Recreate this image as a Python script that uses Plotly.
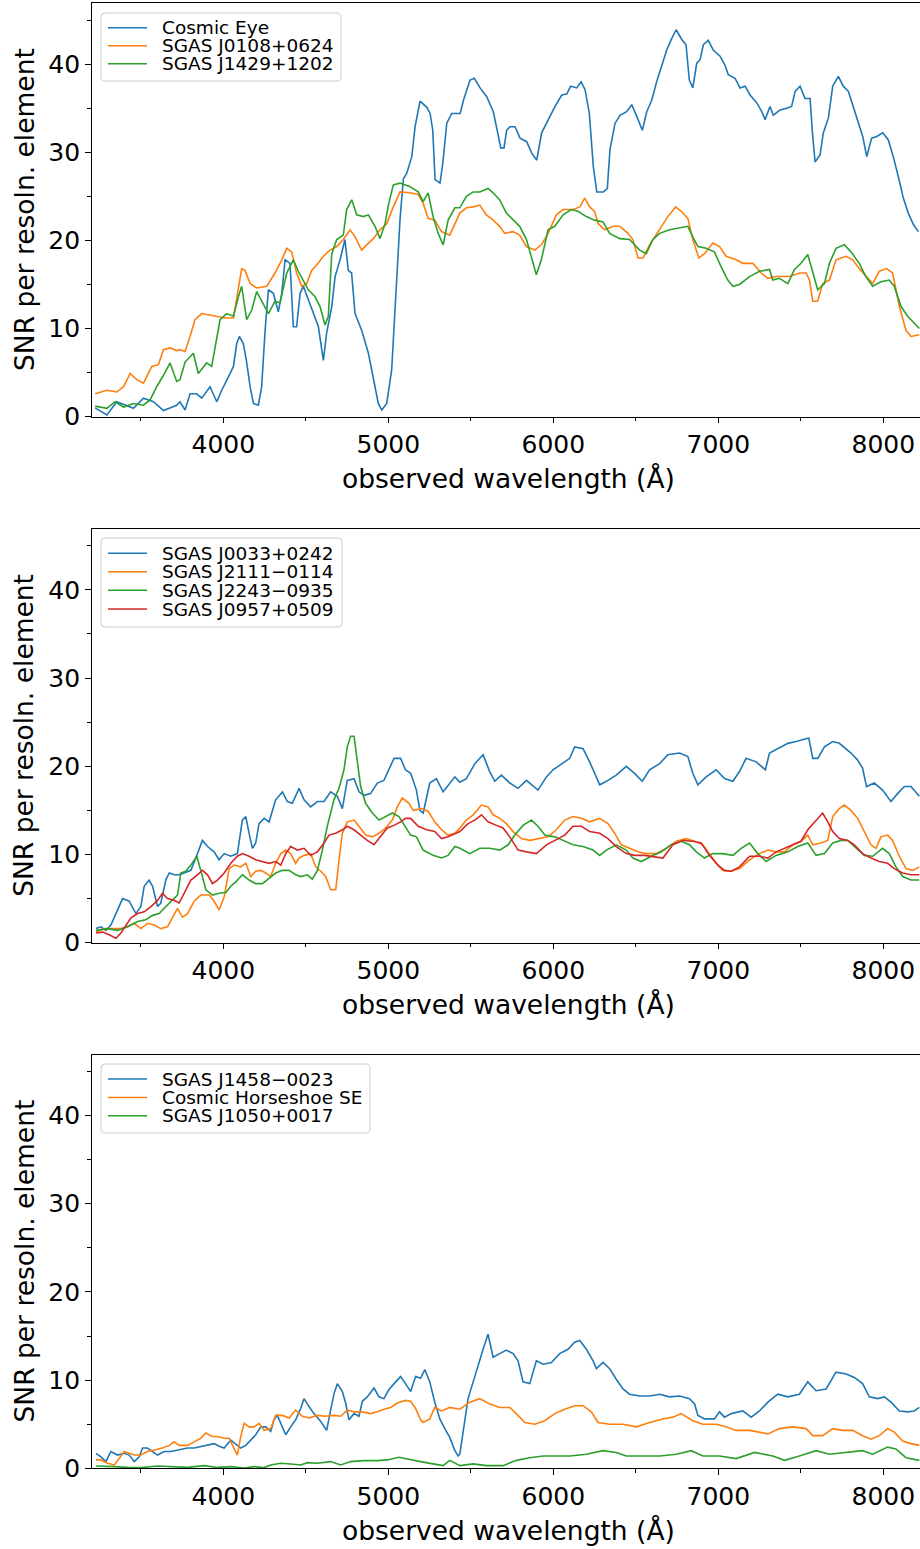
import plotly.graph_objects as go

# ---------------------------------------------------------------------------
# SNR per resolution element vs observed wavelength, three groups of spectra
# Each series: list of (wavelength [Angstrom], SNR) pairs
# ---------------------------------------------------------------------------

COSMIC_EYE = [
    (3223, 1.0), (3294, 0.2), (3354, 1.7), (3415, 1.3), (3455, 0.95), (3516, 2.1),
    (3576, 1.7), (3637, 0.7), (3717, 1.3), (3737, 1.7), (3768, 0.76), (3798, 2.6),
    (3838, 2.6), (3869, 2.1), (3889, 2.6), (3919, 3.4), (3960, 1.7), (3990, 3.0),
    (4030, 4.5), (4061, 5.7), (4081, 8.3), (4097, 9.1), (4121, 8.3), (4141, 6.2),
    (4162, 3.4), (4182, 1.5), (4212, 1.3), (4232, 3.4), (4253, 9.8), (4273, 14.4),
    (4303, 14.0), (4333, 11.9), (4354, 14.0), (4374, 17.8), (4404, 17.4), (4424, 10.2),
    (4444, 10.2), (4465, 14.0), (4485, 14.8), (4515, 13.2), (4545, 11.7), (4576, 10.2),
    (4606, 6.4), (4626, 9.5), (4657, 12.5), (4677, 15.9), (4707, 17.8), (4737, 20.1),
    (4757, 16.6), (4777, 16.3), (4798, 11.7), (4838, 9.8), (4879, 7.2), (4909, 4.2),
    (4939, 1.5), (4960, 0.76), (4990, 1.5), (5020, 5.3), (5050, 14.8), (5071, 22.5),
    (5091, 27.0), (5111, 27.6), (5142, 29.5), (5162, 32.9), (5192, 35.8), (5233, 35.1),
    (5253, 34.4), (5269, 32.5), (5283, 26.9), (5313, 26.5), (5330, 28.8), (5354, 33.3),
    (5384, 34.4), (5435, 34.4), (5455, 35.9), (5495, 38.2), (5521, 38.4), (5556, 37.3),
    (5596, 36.3), (5636, 34.6), (5667, 31.8), (5681, 30.5), (5701, 30.5), (5717, 32.5),
    (5737, 32.9), (5768, 32.9), (5798, 31.6), (5838, 31.2), (5869, 29.9), (5899, 29.1),
    (5929, 32.2), (5980, 34.1), (6010, 35.2), (6051, 36.5), (6081, 36.6), (6105, 37.5),
    (6142, 37.3), (6168, 38.0), (6192, 37.1), (6218, 34.4), (6242, 28.4), (6263, 25.5),
    (6303, 25.5), (6327, 25.9), (6343, 30.3), (6374, 33.3), (6404, 34.2), (6444, 34.6),
    (6475, 35.4), (6505, 34.1), (6539, 32.5), (6566, 34.6), (6596, 35.9), (6626, 38.0),
    (6657, 39.7), (6687, 41.6), (6717, 42.9), (6744, 43.9), (6778, 42.8), (6804, 42.2),
    (6824, 38.2), (6845, 37.3), (6869, 40.1), (6889, 40.5), (6909, 42.2), (6939, 42.7),
    (6969, 41.6), (7010, 40.9), (7040, 39.9), (7060, 38.8), (7101, 38.4), (7131, 37.3),
    (7162, 37.5), (7192, 36.5), (7233, 35.6), (7263, 34.6), (7283, 33.7), (7313, 35.2),
    (7333, 34.2), (7374, 34.8), (7414, 35.0), (7444, 35.2), (7465, 36.9), (7495, 37.5),
    (7525, 36.1), (7556, 36.1), (7570, 32.2), (7586, 28.9), (7616, 29.7), (7636, 32.2),
    (7667, 33.9), (7693, 37.5), (7727, 38.6), (7757, 37.5), (7788, 36.9), (7818, 35.2),
    (7848, 33.3), (7875, 31.8), (7899, 29.5), (7929, 31.6), (7960, 31.8), (7996, 32.2),
    (8030, 31.4), (8060, 29.5), (8091, 27.2), (8121, 24.8), (8151, 23.1), (8182, 21.8),
    (8212, 21.0),
]

SGAS_J0108 = [
    (3223, 2.6), (3294, 3.0), (3354, 2.8), (3395, 3.4), (3435, 4.9), (3475, 4.2),
    (3516, 3.8), (3566, 5.7), (3606, 5.9), (3637, 7.6), (3677, 7.8), (3717, 7.5),
    (3737, 7.6), (3768, 7.4), (3798, 9.1), (3828, 11.0), (3869, 11.7), (3919, 11.5),
    (3960, 11.4), (4010, 11.2), (4061, 11.2), (4081, 13.6), (4111, 16.8), (4131, 16.6),
    (4162, 15.1), (4202, 14.6), (4263, 14.8), (4313, 16.3), (4354, 17.8), (4384, 19.1),
    (4414, 18.7), (4444, 16.3), (4475, 14.8), (4505, 15.1), (4535, 16.6), (4566, 17.2),
    (4606, 18.2), (4646, 18.9), (4687, 19.3), (4727, 20.1), (4768, 21.2), (4798, 20.4),
    (4838, 18.9), (4869, 19.5), (4909, 20.2), (4949, 21.2), (4990, 21.9), (5030, 23.8),
    (5071, 25.5), (5131, 25.4), (5181, 25.2), (5211, 24.2), (5241, 22.5), (5281, 22.3),
    (5322, 21.0), (5372, 20.6), (5433, 23.1), (5473, 23.7), (5514, 23.8), (5554, 24.0),
    (5594, 22.9), (5635, 22.3), (5675, 21.6), (5705, 20.8), (5756, 21.0), (5796, 20.6),
    (5837, 19.3), (5887, 18.9), (5927, 19.5), (5968, 20.8), (6018, 22.9), (6059, 23.5),
    (6119, 23.5), (6160, 23.8), (6190, 24.8), (6220, 23.8), (6250, 23.3), (6271, 21.9),
    (6311, 21.2), (6362, 21.6), (6402, 21.6), (6452, 20.8), (6482, 20.1), (6513, 18.0),
    (6543, 18.0), (6583, 19.5), (6644, 21.2), (6694, 22.7), (6741, 23.8), (6775, 23.3),
    (6815, 22.5), (6845, 20.1), (6882, 18.0), (6916, 18.5), (6966, 19.7), (7007, 19.3),
    (7047, 18.2), (7108, 17.8), (7148, 17.4), (7209, 17.4), (7259, 16.3), (7300, 15.7),
    (7350, 15.9), (7431, 15.9), (7491, 16.3), (7532, 16.3), (7552, 15.5), (7572, 13.1),
    (7602, 13.1), (7632, 15.1), (7673, 15.5), (7713, 17.8), (7773, 18.2), (7814, 17.8),
    (7854, 16.8), (7894, 15.9), (7935, 15.1), (7975, 16.5), (8020, 16.8), (8056, 16.3),
    (8097, 12.5), (8137, 9.8), (8167, 9.1), (8218, 9.3),
]

SGAS_J1429 = [
    (3223, 1.2), (3294, 0.95), (3344, 1.7), (3395, 1.1), (3455, 1.5), (3516, 1.3),
    (3556, 1.9), (3596, 3.4), (3637, 4.7), (3677, 6.1), (3717, 4.0), (3737, 4.2),
    (3768, 6.2), (3818, 7.2), (3848, 4.9), (3899, 6.1), (3929, 5.7), (3950, 7.9),
    (3980, 11.0), (4020, 11.7), (4061, 11.4), (4091, 13.6), (4111, 14.8), (4141, 11.0),
    (4172, 12.1), (4202, 14.2), (4232, 13.2), (4273, 11.7), (4313, 13.1), (4343, 12.9),
    (4384, 16.3), (4424, 17.8), (4454, 16.5), (4485, 15.5), (4515, 14.4), (4556, 13.6),
    (4586, 12.5), (4616, 10.4), (4636, 11.4), (4657, 18.5), (4687, 20.1), (4727, 20.6),
    (4747, 23.5), (4778, 24.6), (4808, 22.9), (4848, 22.7), (4879, 22.9), (4919, 21.6),
    (4949, 20.2), (4980, 21.9), (5000, 24.0), (5030, 26.3), (5071, 26.5), (5131, 26.1),
    (5181, 25.5), (5211, 24.4), (5241, 25.4), (5271, 22.7), (5302, 20.8), (5332, 19.5),
    (5362, 22.3), (5403, 23.7), (5433, 23.7), (5473, 25.0), (5514, 25.5), (5554, 25.5),
    (5604, 25.9), (5635, 25.4), (5675, 24.6), (5715, 23.1), (5756, 22.3), (5796, 21.6),
    (5837, 20.1), (5867, 18.2), (5897, 16.1), (5927, 17.8), (5968, 21.2), (6008, 21.6),
    (6059, 22.9), (6109, 23.5), (6149, 23.3), (6200, 22.7), (6250, 22.3), (6301, 22.1),
    (6341, 20.8), (6402, 20.2), (6462, 20.1), (6523, 18.9), (6563, 18.5), (6603, 20.1),
    (6644, 20.8), (6704, 21.2), (6765, 21.4), (6815, 21.6), (6845, 20.4), (6876, 19.3),
    (6926, 19.1), (6976, 18.7), (7017, 17.0), (7057, 15.5), (7088, 14.8), (7128, 15.0),
    (7189, 15.9), (7249, 16.5), (7310, 16.7), (7330, 15.5), (7370, 15.7), (7421, 15.1),
    (7461, 16.7), (7501, 17.4), (7542, 18.4), (7572, 16.3), (7602, 14.4), (7643, 15.1),
    (7673, 17.4), (7713, 19.1), (7763, 19.5), (7804, 18.7), (7854, 17.4), (7894, 15.9),
    (7935, 14.8), (7985, 15.3), (8036, 15.5), (8066, 14.8), (8107, 12.5), (8147, 11.4),
    (8187, 10.6), (8218, 10.0),
]

SGAS_J0033 = [
    (3228, 1.6), (3258, 1.8), (3288, 1.4), (3318, 2.0), (3349, 3.3), (3389, 5.0),
    (3429, 4.7), (3470, 3.3), (3500, 4.1), (3520, 6.4), (3550, 7.1), (3571, 6.4),
    (3601, 4.1), (3621, 4.5), (3651, 7.1), (3672, 7.9), (3702, 7.7), (3732, 7.7),
    (3762, 7.9), (3803, 8.2), (3843, 10.1), (3873, 11.6), (3904, 10.9), (3944, 10.3),
    (3974, 9.4), (4005, 10.1), (4045, 9.8), (4085, 10.1), (4115, 13.9), (4136, 14.3),
    (4156, 12.4), (4176, 10.7), (4196, 11.3), (4216, 13.5), (4247, 14.1), (4277, 13.7),
    (4317, 16.2), (4358, 17.1), (4388, 16.0), (4418, 15.8), (4459, 17.5), (4489, 16.2),
    (4529, 15.4), (4570, 16.0), (4610, 16.0), (4650, 17.1), (4691, 16.6), (4721, 15.2),
    (4751, 18.4), (4792, 18.6), (4822, 17.1), (4852, 16.7), (4892, 16.9), (4933, 18.1),
    (4973, 18.4), (5003, 19.6), (5034, 20.9), (5074, 20.9), (5104, 19.6), (5135, 19.2),
    (5170, 17.3), (5191, 15.0), (5211, 14.7), (5251, 18.1), (5291, 18.6), (5332, 17.1),
    (5372, 18.1), (5403, 18.8), (5433, 18.2), (5473, 18.6), (5524, 20.3), (5574, 21.3),
    (5614, 19.4), (5645, 18.3), (5685, 19.0), (5736, 18.1), (5786, 17.5), (5837, 18.4),
    (5907, 17.3), (5958, 18.8), (5998, 19.6), (6048, 20.2), (6099, 20.9), (6129, 22.2),
    (6180, 22.0), (6220, 20.5), (6250, 19.2), (6281, 17.9), (6331, 18.4), (6381, 19.0),
    (6442, 20.0), (6492, 19.2), (6539, 18.3), (6583, 19.6), (6644, 20.3), (6694, 21.3),
    (6765, 21.5), (6815, 21.1), (6845, 19.2), (6876, 17.9), (6926, 18.8), (6987, 19.6),
    (7037, 18.6), (7088, 18.3), (7128, 19.4), (7168, 20.9), (7229, 20.5), (7285, 19.6),
    (7310, 21.5), (7360, 22.0), (7421, 22.6), (7471, 22.8), (7511, 23.0), (7548, 23.2),
    (7572, 20.9), (7602, 20.9), (7643, 22.2), (7693, 22.8), (7733, 22.6), (7774, 22.0),
    (7804, 21.5), (7844, 20.7), (7874, 19.8), (7898, 17.7), (7945, 18.1), (7995, 17.3),
    (8046, 16.0), (8086, 16.9), (8127, 17.7), (8167, 17.7), (8218, 16.6),
]

SGAS_J2111 = [
    (3228, 1.2), (3278, 1.6), (3318, 1.6), (3379, 1.6), (3419, 1.8), (3460, 2.2),
    (3500, 1.6), (3540, 2.2), (3581, 2.0), (3621, 1.6), (3661, 1.8), (3692, 2.9),
    (3722, 3.9), (3752, 2.9), (3783, 3.3), (3823, 4.7), (3863, 5.4), (3914, 5.4),
    (3944, 4.7), (3974, 3.7), (4005, 5.2), (4035, 8.4), (4065, 8.8), (4105, 8.6),
    (4136, 9.0), (4166, 7.5), (4196, 8.1), (4227, 8.2), (4257, 7.9), (4287, 7.5),
    (4317, 9.0), (4348, 10.1), (4378, 10.5), (4408, 10.1), (4438, 9.0), (4459, 9.6),
    (4489, 9.9), (4529, 10.1), (4560, 8.6), (4590, 8.1), (4620, 7.5), (4650, 6.0),
    (4681, 6.0), (4701, 9.4), (4721, 12.4), (4751, 13.7), (4792, 13.9), (4822, 13.2),
    (4862, 12.2), (4903, 12.0), (4943, 12.4), (4983, 13.0), (5024, 13.9), (5054, 15.4),
    (5084, 16.4), (5125, 15.8), (5150, 15.0), (5201, 15.2), (5241, 14.9), (5281, 13.7),
    (5322, 12.8), (5362, 12.2), (5403, 12.4), (5433, 13.0), (5473, 13.9), (5514, 14.5),
    (5564, 15.6), (5604, 15.4), (5635, 14.5), (5675, 14.1), (5715, 13.5), (5756, 12.6),
    (5806, 11.8), (5857, 11.6), (5917, 11.8), (5968, 12.0), (6018, 12.8), (6069, 13.9),
    (6119, 14.3), (6170, 14.1), (6220, 13.7), (6281, 14.1), (6331, 13.5), (6372, 12.4),
    (6412, 11.1), (6462, 10.7), (6513, 10.3), (6563, 10.1), (6624, 10.1), (6684, 10.7),
    (6745, 11.5), (6805, 11.8), (6856, 11.5), (6906, 11.1), (6946, 10.1), (6987, 9.0),
    (7027, 8.2), (7078, 8.1), (7128, 8.4), (7189, 9.4), (7249, 10.1), (7300, 10.5),
    (7350, 10.3), (7401, 10.3), (7451, 11.1), (7501, 11.5), (7542, 12.2), (7572, 11.1),
    (7622, 11.3), (7663, 11.6), (7693, 14.3), (7733, 15.2), (7763, 15.6), (7804, 15.0),
    (7844, 14.1), (7884, 12.6), (7925, 11.1), (7955, 10.7), (7985, 12.0), (8026, 12.2),
    (8056, 11.6), (8097, 9.8), (8137, 8.4), (8177, 8.2), (8218, 8.6),
]

SGAS_J2243 = [
    (3228, 1.4), (3298, 1.6), (3359, 1.4), (3419, 1.8), (3480, 2.4), (3530, 2.6),
    (3571, 3.1), (3611, 3.3), (3641, 3.9), (3682, 4.7), (3722, 5.4), (3742, 7.9),
    (3772, 8.1), (3803, 8.8), (3839, 9.8), (3863, 8.2), (3894, 6.0), (3934, 5.4),
    (3974, 5.6), (4015, 5.7), (4045, 6.4), (4075, 6.9), (4116, 7.7), (4156, 7.1),
    (4196, 6.7), (4237, 6.7), (4277, 7.3), (4317, 7.9), (4358, 8.2), (4398, 8.2),
    (4438, 7.7), (4469, 7.5), (4509, 7.7), (4539, 7.2), (4570, 8.2), (4600, 10.5),
    (4630, 13.2), (4670, 16.2), (4701, 17.5), (4731, 19.6), (4751, 22.2), (4771, 23.4),
    (4792, 23.4), (4812, 20.3), (4832, 17.7), (4862, 15.8), (4903, 14.7), (4943, 13.9),
    (4983, 14.3), (5024, 14.7), (5064, 14.3), (5104, 13.2), (5135, 12.2), (5170, 12.0),
    (5211, 10.5), (5271, 9.9), (5322, 9.6), (5362, 9.9), (5403, 10.9), (5433, 10.7),
    (5494, 10.1), (5554, 10.7), (5614, 10.7), (5675, 10.5), (5726, 11.1), (5766, 12.2),
    (5816, 13.3), (5867, 13.9), (5907, 13.2), (5948, 12.2), (6008, 12.0), (6059, 11.6),
    (6119, 11.1), (6180, 10.9), (6240, 10.5), (6281, 9.9), (6321, 10.5), (6381, 11.1),
    (6442, 10.5), (6482, 9.6), (6533, 9.2), (6593, 9.8), (6654, 10.3), (6714, 11.1),
    (6775, 11.5), (6825, 11.1), (6866, 10.3), (6916, 9.6), (6966, 10.1), (7027, 10.1),
    (7088, 9.9), (7138, 10.7), (7189, 11.3), (7239, 10.1), (7290, 9.2), (7350, 9.9),
    (7421, 10.3), (7481, 10.9), (7542, 11.3), (7592, 9.9), (7643, 10.1), (7693, 11.3),
    (7743, 11.6), (7784, 11.6), (7834, 10.7), (7884, 9.9), (7935, 9.8), (7995, 10.7),
    (8036, 10.1), (8076, 8.6), (8117, 7.5), (8167, 7.1), (8218, 7.1),
]

SGAS_J0957 = [
    (3228, 1.1), (3268, 1.2), (3308, 0.9), (3349, 0.5), (3379, 1.1), (3409, 2.0),
    (3439, 2.8), (3480, 3.3), (3520, 3.5), (3561, 4.1), (3601, 4.8), (3631, 5.6),
    (3661, 5.0), (3702, 4.8), (3732, 4.5), (3762, 5.6), (3803, 7.1), (3843, 7.7),
    (3873, 8.2), (3904, 7.7), (3934, 6.7), (3964, 7.1), (4005, 7.9), (4045, 9.0),
    (4085, 9.8), (4116, 10.1), (4156, 9.8), (4196, 9.4), (4237, 9.2), (4277, 9.0),
    (4317, 9.2), (4348, 8.8), (4378, 10.1), (4408, 10.9), (4449, 10.5), (4489, 10.7),
    (4529, 9.9), (4570, 10.3), (4610, 11.3), (4640, 12.2), (4681, 12.4), (4721, 12.8),
    (4751, 13.2), (4792, 12.8), (4832, 12.2), (4872, 11.6), (4913, 11.1), (4953, 12.0),
    (4993, 13.0), (5034, 13.3), (5074, 13.7), (5104, 14.1), (5135, 14.1), (5181, 13.2),
    (5231, 12.8), (5281, 12.6), (5322, 11.8), (5362, 12.0), (5403, 12.4), (5433, 12.6),
    (5483, 13.5), (5524, 13.9), (5564, 14.5), (5604, 13.7), (5655, 13.3), (5695, 13.0),
    (5736, 12.0), (5786, 10.5), (5837, 10.3), (5897, 10.1), (5958, 11.1), (6008, 11.6),
    (6069, 12.2), (6119, 13.2), (6170, 13.2), (6220, 12.6), (6281, 12.4), (6331, 11.8),
    (6381, 10.9), (6442, 10.1), (6492, 9.9), (6553, 9.9), (6603, 9.8), (6664, 9.6),
    (6724, 11.1), (6785, 11.6), (6845, 11.5), (6896, 11.3), (6946, 9.9), (6997, 8.8),
    (7037, 8.2), (7078, 8.1), (7128, 8.6), (7189, 9.8), (7249, 9.8), (7300, 9.6),
    (7350, 10.3), (7401, 10.7), (7451, 11.1), (7501, 11.5), (7542, 12.8), (7592, 13.9),
    (7632, 14.7), (7663, 13.7), (7693, 12.6), (7733, 11.8), (7784, 11.6), (7824, 11.1),
    (7874, 10.1), (7925, 9.6), (7975, 9.2), (8026, 9.0), (8066, 8.4), (8117, 7.9),
    (8167, 7.7), (8218, 7.7),
]

SGAS_J1458 = [
    (3228, 1.7), (3258, 1.3), (3288, 0.76), (3318, 1.9), (3359, 1.5), (3399, 1.7),
    (3429, 1.5), (3460, 0.76), (3490, 1.3), (3510, 2.3), (3540, 2.3), (3571, 1.9),
    (3601, 1.5), (3641, 1.9), (3682, 1.9), (3732, 2.1), (3783, 2.3), (3823, 2.3),
    (3873, 2.5), (3914, 2.6), (3944, 2.8), (3974, 2.5), (4005, 2.3), (4045, 3.2),
    (4075, 2.8), (4105, 2.3), (4136, 2.6), (4166, 3.2), (4196, 3.8), (4227, 4.7),
    (4257, 4.7), (4287, 4.2), (4307, 5.5), (4327, 6.0), (4358, 4.7), (4378, 3.8),
    (4408, 4.7), (4438, 5.5), (4469, 6.8), (4489, 7.9), (4519, 7.0), (4549, 6.2),
    (4590, 5.3), (4626, 4.3), (4650, 6.6), (4671, 8.5), (4691, 9.6), (4721, 8.7),
    (4741, 7.4), (4761, 5.5), (4792, 6.2), (4822, 5.9), (4842, 7.6), (4872, 8.1),
    (4913, 9.1), (4943, 8.1), (4973, 7.9), (5003, 8.9), (5044, 9.8), (5074, 10.4),
    (5104, 9.6), (5135, 8.7), (5165, 10.4), (5195, 10.2), (5221, 11.2), (5251, 9.8),
    (5281, 7.5), (5312, 5.6), (5342, 4.5), (5372, 3.5), (5403, 2.0), (5423, 1.4),
    (5433, 1.6), (5453, 4.1), (5483, 7.9), (5514, 9.8), (5544, 11.7), (5574, 13.5),
    (5604, 15.2), (5635, 12.6), (5675, 13.0), (5715, 13.4), (5756, 13.0), (5786, 12.2),
    (5816, 9.8), (5857, 9.6), (5897, 12.2), (5938, 11.8), (5988, 12.0), (6038, 13.0),
    (6089, 13.5), (6129, 14.3), (6160, 14.5), (6200, 13.5), (6240, 12.2), (6261, 11.3),
    (6301, 12.0), (6341, 11.3), (6381, 10.1), (6422, 9.0), (6462, 8.4), (6523, 8.2),
    (6583, 8.2), (6644, 8.4), (6704, 8.1), (6765, 8.2), (6825, 7.9), (6856, 7.3),
    (6876, 6.0), (6916, 5.6), (6976, 5.6), (7007, 6.4), (7037, 5.8), (7078, 6.2),
    (7148, 6.5), (7199, 5.8), (7249, 6.5), (7300, 7.5), (7360, 8.4), (7421, 8.1),
    (7491, 8.4), (7542, 9.8), (7592, 8.8), (7653, 9.0), (7713, 10.9), (7774, 10.7),
    (7824, 10.3), (7874, 9.6), (7915, 8.1), (7965, 7.9), (8006, 8.1), (8046, 7.5),
    (8097, 6.5), (8147, 6.4), (8187, 6.5), (8218, 6.9),
]

COSMIC_HORSESHOE_SE = [
    (3228, 0.95), (3258, 0.95), (3298, 0.57), (3339, 0.38), (3369, 1.1), (3399, 1.9),
    (3429, 1.7), (3460, 1.5), (3500, 1.5), (3540, 1.9), (3591, 2.1), (3631, 2.3),
    (3672, 2.6), (3702, 3.0), (3732, 2.6), (3783, 2.6), (3823, 3.0), (3863, 3.4),
    (3893, 4.0), (3934, 3.6), (3964, 3.6), (4005, 3.4), (4035, 3.4), (4055, 2.6),
    (4085, 1.5), (4105, 3.6), (4126, 5.1), (4156, 4.7), (4186, 4.7), (4216, 5.1),
    (4247, 4.3), (4287, 4.5), (4317, 6.0), (4358, 6.0), (4398, 5.7), (4438, 6.6),
    (4479, 5.9), (4519, 5.7), (4570, 6.0), (4620, 5.9), (4671, 6.0), (4711, 5.9),
    (4751, 6.6), (4792, 6.4), (4842, 6.4), (4893, 6.2), (4933, 6.4), (4973, 6.7),
    (5014, 6.9), (5054, 7.4), (5104, 7.7), (5135, 7.6), (5165, 6.8), (5195, 5.5),
    (5211, 5.2), (5251, 5.6), (5281, 6.9), (5322, 6.5), (5372, 6.9), (5433, 6.7),
    (5494, 7.5), (5554, 7.9), (5614, 7.3), (5675, 6.9), (5736, 6.9), (5786, 6.0),
    (5827, 5.2), (5887, 5.0), (5948, 5.4), (6008, 6.2), (6069, 6.7), (6129, 7.1),
    (6180, 7.1), (6230, 6.4), (6271, 5.2), (6341, 5.0), (6422, 5.0), (6503, 4.7),
    (6583, 5.2), (6664, 5.6), (6724, 5.8), (6775, 6.2), (6845, 5.4), (6906, 5.0),
    (6987, 5.0), (7047, 4.7), (7108, 4.3), (7189, 4.3), (7249, 4.1), (7300, 3.9),
    (7370, 4.5), (7451, 4.7), (7532, 4.5), (7572, 3.7), (7632, 3.7), (7693, 4.5),
    (7753, 4.3), (7814, 4.3), (7874, 3.7), (7925, 3.3), (7975, 3.7), (8026, 4.5),
    (8066, 4.1), (8117, 3.1), (8167, 2.8), (8218, 2.6),
]

SGAS_J1050 = [
    (3228, 0.26), (3278, 0.26), (3339, 0.19), (3419, 0.1), (3500, 0.08), (3601, 0.26),
    (3682, 0.19), (3783, 0.1), (3883, 0.3), (3964, 0.1), (4045, 0.19), (4126, 0.04),
    (4186, 0.19), (4247, 0.08), (4287, 0.38), (4348, 0.57), (4408, 0.49), (4469, 0.38),
    (4509, 0.64), (4570, 0.57), (4650, 0.76), (4711, 0.38), (4771, 0.76), (4852, 0.87),
    (4933, 0.87), (4993, 0.95), (5064, 1.25), (5135, 0.95), (5195, 0.76), (5271, 0.5),
    (5332, 0.3), (5372, 0.9), (5433, 0.3), (5514, 0.5), (5594, 0.3), (5695, 0.3),
    (5776, 0.9), (5857, 1.2), (5938, 1.4), (6018, 1.4), (6099, 1.4), (6200, 1.6),
    (6301, 2.0), (6381, 1.8), (6442, 1.4), (6543, 1.4), (6644, 1.4), (6745, 1.6),
    (6835, 2.0), (6906, 1.4), (7007, 1.4), (7108, 1.1), (7219, 1.8), (7330, 1.4),
    (7401, 0.9), (7491, 1.4), (7592, 2.0), (7673, 1.6), (7774, 1.8), (7874, 2.0),
    (7935, 1.6), (8026, 2.4), (8076, 2.2), (8137, 1.2), (8218, 0.9),
]

PANELS = [
    [("Cosmic Eye", COSMIC_EYE), ("SGAS J0108+0624", SGAS_J0108),
     ("SGAS J1429+1202", SGAS_J1429)],
    [("SGAS J0033+0242", SGAS_J0033), ("SGAS J2111\u22120114", SGAS_J2111),
     ("SGAS J2243\u22120935", SGAS_J2243), ("SGAS J0957+0509", SGAS_J0957)],
    [("SGAS J1458\u22120023", SGAS_J1458), ("Cosmic Horseshoe SE", COSMIC_HORSESHOE_SE),
     ("SGAS J1050+0017", SGAS_J1050)],
]

COLORS = ["#1f77b4", "#ff7f0e", "#2ca02c", "#d62728"]
X_RANGE = [3202, 8222]
Y_RANGE = [0, 46.9]
X_TITLE = "observed wavelength (\u00c5)"
Y_TITLE = "SNR per resoln. element"

W, H = 920, 1549
FONT = "DejaVu Sans, Verdana, sans-serif"

# panel geometry in pixels (top, bottom) and legend boxes
PANEL_PX = [(3.3, 416.7), (529.0, 942.7), (1054.7, 1468.3)]
LEGEND_BOX = [(101, 13, 341, 81), (101, 538, 342, 627), (101, 1064, 370, 1133)]
LEGEND_ROWS = [[27.7, 45.7, 63.7], [553.3, 571.7, 590.3, 609.0], [1079.0, 1097.5, 1115.7]]
XTITLE_Y = [478.5, 1004.0, 1530.0]
LEFT_PX = 91.7


def fx(p):
    return p / W


def fy(p):
    return 1 - p / H


def rounded_box(x0, y0, x1, y1, r=4):
    pts = [
        ("M", [(x0 + r, y0)]), ("L", [(x1 - r, y0)]), ("Q", [(x1, y0), (x1, y0 + r)]),
        ("L", [(x1, y1 - r)]), ("Q", [(x1, y1), (x1 - r, y1)]), ("L", [(x0 + r, y1)]),
        ("Q", [(x0, y1), (x0, y1 - r)]), ("L", [(x0, y0 + r)]), ("Q", [(x0, y0), (x0 + r, y0)]),
    ]
    out = []
    for cmd, coords in pts:
        out.append(cmd + " ".join(f"{fx(a):.6f},{fy(b):.6f}" for a, b in coords))
    return " ".join(out) + " Z"


fig = go.Figure()
shapes = []
annotations = []
layout_axes = {}

for i, series in enumerate(PANELS):
    n = i + 1
    xa = "x" if n == 1 else f"x{n}"
    ya = "y" if n == 1 else f"y{n}"
    for j, (name, pts) in enumerate(series):
        fig.add_trace(go.Scatter(
            x=[p[0] for p in pts], y=[p[1] for p in pts],
            mode="lines", name=name, xaxis=xa, yaxis=ya,
            line=dict(color=COLORS[j], width=1.6),
            showlegend=False, hoverinfo="skip",
        ))

    top, bot = PANEL_PX[i]
    axis_common = dict(
        showline=True, linecolor="black", linewidth=1.3,
        ticks="outside", tickcolor="black", tickwidth=1.2, ticklen=5.5,
        tickfont=dict(family=FONT, size=25, color="black"),
        showgrid=False, zeroline=False, automargin=False,
    )
    layout_axes["xaxis" if n == 1 else f"xaxis{n}"] = dict(
        axis_common, domain=[fx(LEFT_PX), 1.0], range=X_RANGE,
        anchor=ya, mirror=True, tick0=0, dtick=1000,
        minor=dict(dtick=500, tick0=0, ticks="outside", ticklen=3.5,
                   tickwidth=1, tickcolor="black"),
    )
    layout_axes["yaxis" if n == 1 else f"yaxis{n}"] = dict(
        axis_common, domain=[fy(bot), fy(top)], range=Y_RANGE,
        anchor=xa, mirror=False, tick0=0, dtick=10,
        minor=dict(dtick=5, tick0=0, ticks="outside", ticklen=3.5,
                   tickwidth=1, tickcolor="black"),
    )

    # axis titles
    annotations.append(dict(
        text=Y_TITLE, x=fx(24), y=fy((top + bot) / 2), xref="paper", yref="paper",
        textangle=-90, showarrow=False, xanchor="center", yanchor="middle",
        font=dict(family=FONT, size=26.5, color="black"),
    ))
    annotations.append(dict(
        text=X_TITLE, x=fx(508.5), y=fy(XTITLE_Y[i]), xref="paper", yref="paper",
        showarrow=False, xanchor="center", yanchor="middle",
        font=dict(family=FONT, size=26.5, color="black"),
    ))

    # legend: frame, line samples and labels
    bx0, by0, bx1, by1 = LEGEND_BOX[i]
    shapes.append(dict(
        type="path", path=rounded_box(bx0, by0, bx1, by1), xref="paper", yref="paper",
        fillcolor="rgba(255,255,255,0.8)", line=dict(color="#cccccc", width=1),
        layer="above",
    ))
    for j, (name, _) in enumerate(series):
        ry = LEGEND_ROWS[i][j]
        shapes.append(dict(
            type="line", xref="paper", yref="paper",
            x0=fx(108), x1=fx(147), y0=fy(ry), y1=fy(ry),
            line=dict(color=COLORS[j], width=1.6), layer="above",
        ))
        annotations.append(dict(
            text=name, x=fx(160), y=fy(ry), xref="paper", yref="paper",
            showarrow=False, xanchor="left", yanchor="middle",
            font=dict(family=FONT, size=18.5, color="black"),
        ))

fig.update_layout(
    width=W, height=H, margin=dict(l=0, r=0, t=0, b=0),
    paper_bgcolor="white", plot_bgcolor="white",
    showlegend=False, shapes=shapes, annotations=annotations,
    **layout_axes,
)

fig.write_html("out.html")
